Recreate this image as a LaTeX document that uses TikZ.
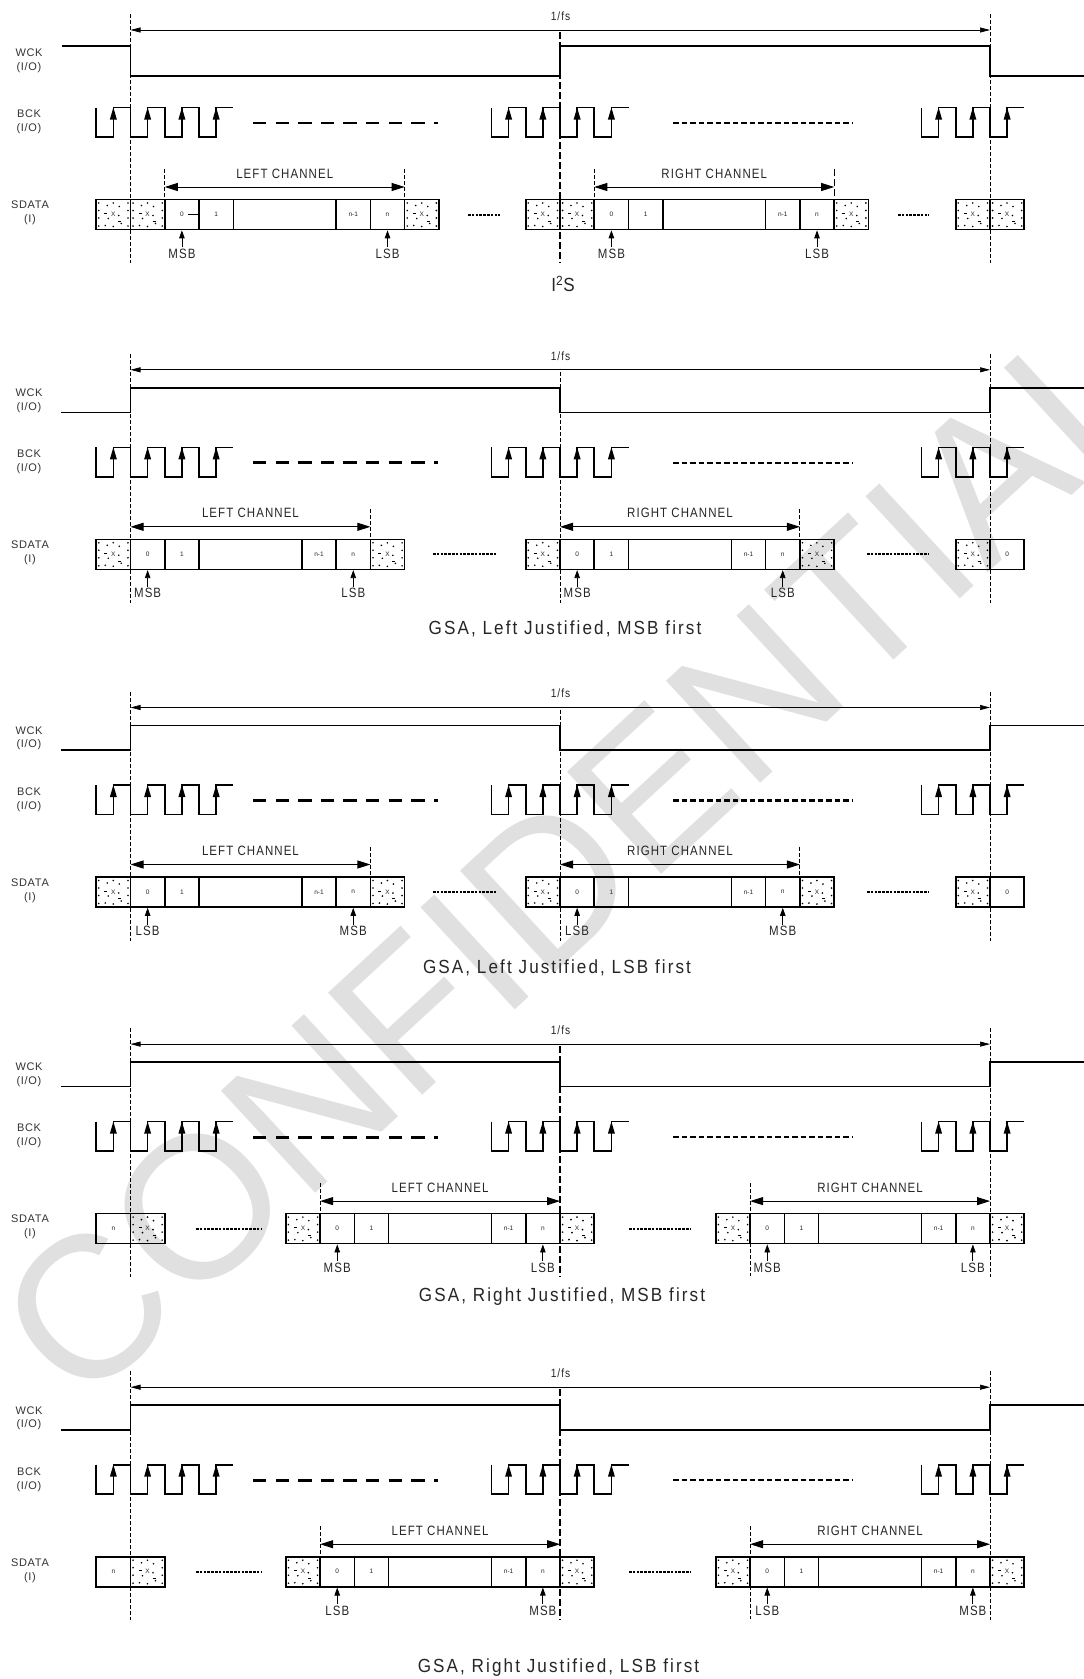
\documentclass[tikz,border=0pt]{standalone}
\usepackage{fontspec}
\setmainfont{Liberation Sans}
\newfontfamily\labfont[LetterSpace=6]{Liberation Sans}
\newfontfamily\narfont[FakeStretch=0.85,LetterSpace=8]{Liberation Sans}
\newfontfamily\titfont[FakeStretch=0.9,LetterSpace=11]{Liberation Sans}
\usetikzlibrary{arrows.meta}

\newcommand\cw{34.27}
\newcommand\hp{17.135}

\tikzset{
  wave/.style={line width=1.6pt},
  cellb/.style={draw=black,line width=1.6pt},
  vdl/.style={line width=0.8pt,dash pattern=on 4pt off 2pt},
  vdlb/.style={line width=1.2pt,dash pattern=on 7pt off 3pt},
  dimarr/.style={line width=0.7pt,{Triangle[length=10pt,width=5pt]}-{Triangle[length=10pt,width=5pt]}},
  charr/.style={line width=0.9pt,{Triangle[length=13pt,width=8pt]}-{Triangle[length=13pt,width=8pt]}},
  bitarr/.style={line width=0.8pt,-{Triangle[length=8pt,width=5.5pt]}},
  sdots/.style={line width=2pt,dash pattern=on 2.6pt off 1.2pt},
  bckl/.style={line width=2.8pt,dash pattern=on 13.3pt off 9.3pt},
  bcks/.style={line width=2.4pt,dash pattern=on 5.5pt off 3pt},
  lab/.style={font=\labfont\fontsize{11}{11}\selectfont,text=black!80,inner sep=0pt},
  ctxt/.style={font=\fontsize{6.5}{6.5}\selectfont,text=black!85,inner sep=0pt},
  chtxt/.style={font=\narfont\fontsize{13.5}{13.5}\selectfont,text=black!85,inner sep=0pt},
  bittxt/.style={font=\narfont\fontsize{13.5}{13.5}\selectfont,text=black!85,inner sep=0pt},
  fstxt/.style={font=\narfont\fontsize{12}{12}\selectfont,text=black!85,inner sep=0pt},
  ttl/.style={font=\titfont\fontsize{19}{19}\selectfont,text=black!85,inner sep=0pt},
  wmark/.style={font=\fontsize{202}{202}\selectfont,text=black!12,inner sep=0pt}
}

% dotted "X" cell: name, x, ytop
\newcommand\xcell[3]{%
  \draw[cellb] (#2,#3) rectangle ++(\cw,30);
  \foreach \dx/\dy in {2.6/3.5,2.6/11,2.6/18.5,2.6/26.5,31.7/3.5,31.7/11,31.7/18.5,31.7/26.5,11/6,17/3.5,23/7,12/19,22.5/16,9/26,17/27,25/24}
    \fill (#2+\dx,#3+\dy) circle[radius=0.9pt];
  \draw[line width=0.6pt] (#2+8,#3+14) -- ++(3,0) (#2+22,#3+21.5) -- ++(3,0);
  \node[ctxt] (#1) at (#2+\cw/2,#3+15) {X};
}
% text cell: name, x, ytop, text
\newcommand\tcell[4]{%
  \draw[cellb] (#2,#3) rectangle ++(\cw,30);
  \node[ctxt] (#1) at (#2+\cw/2,#3+15) {#4};
}
% channel data block 0,1,wide,n-1,n: prefix, x, ytop
\newcommand\chblock[3]{%
  \tcell{#1z}{#2}{#3}{0}%
  \tcell{#1o}{#2+\cw}{#3}{1}%
  \draw[cellb] (#2+2*\cw,#3) rectangle ++(3*\cw,30);%
  \tcell{#1m}{#2+5*\cw}{#3}{n-1}%
  \tcell{#1n}{#2+6*\cw}{#3}{n}%
}
% BCK pulse group: x0, number of rising edges, y high
\newcommand\bckgroup[3]{%
  \draw[wave] (#1,#3) \foreach \k in {1,...,#2}{ -- ++(0,29.5) -- ++(\hp,0) -- ++(0,-29.5) -- ++(\hp,0)};
  \foreach \k in {1,...,#2} \fill (#1+\hp*2*\k-\hp,#3) -- ++(-3.5,12) -- ++(7,0) -- cycle;
}
% bit pointer: name, x, A, text
\newcommand\bitarrow[4]{%
  \node[bittxt] (#1) at (#2,#3+223.5) {#4};
  \draw[bitarr] ([yshift=1.5pt]#1.north) -- (#2,#3+200.3);
}
% channel span: name, xs, xe, A, text
\newcommand\chan[5]{%
  \draw[charr] (#2,#4+157) -- (#3,#4+157);
  \node[chtxt] (#1) at ({(#2+#3)/2},#4+143.5) {#5};
}
% common parts of one timing section: id, A
\newcommand\common[2]{%
  \node[fstxt] (#1fs) at (560.5,#2-14) {1/fs};
  \draw[dimarr] (130.5,#2) -- (990,#2);
  \draw[vdl] (130.5,#2-16) -- (130.5,#2+233);
  \draw[vdl] (990,#2-16) -- (990,#2+233);
  \bckgroup{96.23}{4}{#2+77.5}
  \bckgroup{491.46}{4}{#2+77.5}
  \bckgroup{921.46}{3}{#2+77.5}
  \draw[bckl] (253,#2+93) -- (437.5,#2+93);
  \draw[bcks] (673,#2+93) -- (852,#2+93);
  \node[lab] (#1w1) at (29,#2+23) {WCK};
  \node[lab] (#1w2) at (29,#2+37.5) {(I/O)};
  \node[lab] (#1b1) at (29,#2+84) {BCK};
  \node[lab] (#1b2) at (29,#2+99) {(I/O)};
  \node[lab] (#1s1) at (30,#2+175) {SDATA};
  \node[lab] (#1s2) at (30,#2+190) {(I)};
}

\begin{document}
\begin{tikzpicture}[x=1pt,y=-1pt]
\useasboundingbox (0,0) rectangle (1084,1679);
\fill[white] (0,0) rectangle (1084,1679);

% watermark
\node[wmark,rotate=42.7] (wm) at (578,857) {CONFIDENTIAL};

% ================= Section 1 : I2S =================
\common{a}{30}
\draw[wave] (62,46) -- (130.5,46) -- (130.5,76) -- (560,76) -- (560,46) -- (990,46) -- (990,76) -- (1084,76);
\draw[vdlb] (560,32) -- (560,263);
\xcell{a1}{96.23}{199.5}
\xcell{a2}{130.5}{199.5}
\chblock{aL}{164.77}{199.5}
\draw[line width=0.6pt] (188.4,214.5) -- (199.04,214.5);
\xcell{a3}{404.66}{199.5}
\draw[sdots] (468,214.5) -- (500,214.5);
\xcell{a4}{525.73}{199.5}
\xcell{a5}{560}{199.5}
\chblock{aR}{594.27}{199.5}
\xcell{a6}{834.16}{199.5}
\draw[sdots] (898,214.5) -- (929,214.5);
\xcell{a7}{955.73}{199.5}
\xcell{a8}{990}{199.5}
\draw[vdl] (164.77,169) -- (164.77,199.5);
\draw[vdl] (404.66,169) -- (404.66,199.5);
\draw[vdl] (594.27,169) -- (594.27,199.5);
\draw[vdlb] (834.16,169) -- (834.16,199.5);
\chan{aLC}{164.77}{404.66}{30}{LEFT CHANNEL}
\chan{aRC}{594.27}{834.16}{30}{RIGHT CHANNEL}
\bitarrow{aM1}{181.9}{30}{MSB}
\bitarrow{aB1}{387.52}{30}{LSB}
\bitarrow{aM2}{611.4}{30}{MSB}
\bitarrow{aB2}{817.0}{30}{LSB}
\node[ttl] (aT) at (563,284) {I\textsuperscript{2}S};

% ================= Section 2 : LJ MSB first =================
\common{b}{369.8}
\draw[wave] (61,412.3) -- (130.5,412.3) -- (130.5,387.8) -- (560,387.8) -- (560,412.3) -- (990,412.3) -- (990,387.8) -- (1084,387.8);
\draw[vdl] (560,371.8) -- (560,602.8);
\xcell{b1}{96.23}{539.3}
\chblock{bL}{130.5}{539.3}
\xcell{b2}{370.39}{539.3}
\draw[sdots] (433,554.3) -- (497,554.3);
\xcell{b3}{525.73}{539.3}
\chblock{bR}{560}{539.3}
\xcell{b4}{799.89}{539.3}
\draw[sdots] (867,554.3) -- (928,554.3);
\xcell{b5}{955.73}{539.3}
\tcell{b6}{990}{539.3}{0}
\draw[vdl] (370.39,508.8) -- (370.39,539.3);
\draw[vdl] (799.89,508.8) -- (799.89,539.3);
\chan{bLC}{130.5}{370.39}{369.8}{LEFT CHANNEL}
\chan{bRC}{560}{799.89}{369.8}{RIGHT CHANNEL}
\bitarrow{bM1}{147.64}{369.8}{MSB}
\bitarrow{bB1}{353.25}{369.8}{LSB}
\bitarrow{bM2}{577.14}{369.8}{MSB}
\bitarrow{bB2}{782.75}{369.8}{LSB}
\node[ttl] (bT) at (565,629.3) {GSA, Left Justified, MSB first};

% ================= Section 3 : LJ LSB first =================
\common{c}{707.5}
\draw[wave] (61,750) -- (130.5,750) -- (130.5,725.5) -- (560,725.5) -- (560,750) -- (990,750) -- (990,725.5) -- (1084,725.5);
\draw[vdl] (560,709.5) -- (560,940.5);
\xcell{c1}{96.23}{877}
\chblock{cL}{130.5}{877}
\xcell{c2}{370.39}{877}
\draw[sdots] (433,892) -- (497,892);
\xcell{c3}{525.73}{877}
\chblock{cR}{560}{877}
\xcell{c4}{799.89}{877}
\draw[sdots] (867,892) -- (928,892);
\xcell{c5}{955.73}{877}
\tcell{c6}{990}{877}{0}
\draw[vdl] (370.39,846.5) -- (370.39,877);
\draw[vdl] (799.89,846.5) -- (799.89,877);
\chan{cLC}{130.5}{370.39}{707.5}{LEFT CHANNEL}
\chan{cRC}{560}{799.89}{707.5}{RIGHT CHANNEL}
\bitarrow{cB1}{147.64}{707.5}{LSB}
\bitarrow{cM1}{353.25}{707.5}{MSB}
\bitarrow{cB2}{577.14}{707.5}{LSB}
\bitarrow{cM2}{782.75}{707.5}{MSB}
\node[ttl] (cT) at (557,968) {GSA, Left Justified, LSB first};

% ================= Section 4 : RJ MSB first =================
\common{d}{1044.1}
\draw[wave] (61,1086.6) -- (130.5,1086.6) -- (130.5,1062.1) -- (560,1062.1) -- (560,1086.6) -- (990,1086.6) -- (990,1062.1) -- (1084,1062.1);
\draw[vdlb] (560,1046.1) -- (560,1277.1);
\tcell{d1}{96.23}{1213.6}{n}
\xcell{d2}{130.5}{1213.6}
\draw[sdots] (196,1228.6) -- (262,1228.6);
\xcell{d3}{285.84}{1213.6}
\chblock{dL}{320.11}{1213.6}
\xcell{d4}{560}{1213.6}
\draw[sdots] (629,1228.6) -- (691,1228.6);
\xcell{d5}{715.84}{1213.6}
\chblock{dR}{750.11}{1213.6}
\xcell{d6}{990}{1213.6}
\draw[vdl] (320.11,1183.1) -- (320.11,1213.6);
\draw[vdl] (750.11,1183.1) -- (750.11,1276.1);
\chan{dLC}{320.11}{560}{1044.1}{LEFT CHANNEL}
\chan{dRC}{750.11}{990}{1044.1}{RIGHT CHANNEL}
\bitarrow{dM1}{337.25}{1044.1}{MSB}
\bitarrow{dB1}{542.87}{1044.1}{LSB}
\bitarrow{dM2}{767.25}{1044.1}{MSB}
\bitarrow{dB2}{972.87}{1044.1}{LSB}
\node[ttl] (dT) at (562,1297) {GSA, Right Justified, MSB first};

% ================= Section 5 : RJ LSB first =================
\common{e}{1387.2}
\draw[wave] (61,1429.7) -- (130.5,1429.7) -- (130.5,1405.2) -- (560,1405.2) -- (560,1429.7) -- (990,1429.7) -- (990,1405.2) -- (1084,1405.2);
\draw[vdlb] (560,1389.2) -- (560,1620.2);
\tcell{e1}{96.23}{1556.7}{n}
\xcell{e2}{130.5}{1556.7}
\draw[sdots] (196,1571.7) -- (262,1571.7);
\xcell{e3}{285.84}{1556.7}
\chblock{eL}{320.11}{1556.7}
\xcell{e4}{560}{1556.7}
\draw[sdots] (629,1571.7) -- (691,1571.7);
\xcell{e5}{715.84}{1556.7}
\chblock{eR}{750.11}{1556.7}
\xcell{e6}{990}{1556.7}
\draw[vdl] (320.11,1526.2) -- (320.11,1556.7);
\draw[vdl] (750.11,1526.2) -- (750.11,1619.2);
\chan{eLC}{320.11}{560}{1387.2}{LEFT CHANNEL}
\chan{eRC}{750.11}{990}{1387.2}{RIGHT CHANNEL}
\bitarrow{eB1}{337.25}{1387.2}{LSB}
\bitarrow{eM1}{542.87}{1387.2}{MSB}
\bitarrow{eB2}{767.25}{1387.2}{LSB}
\bitarrow{eM2}{972.87}{1387.2}{MSB}
\node[ttl] (eT) at (558.5,1668) {GSA, Right Justified, LSB first};
\end{tikzpicture}
\end{document}
